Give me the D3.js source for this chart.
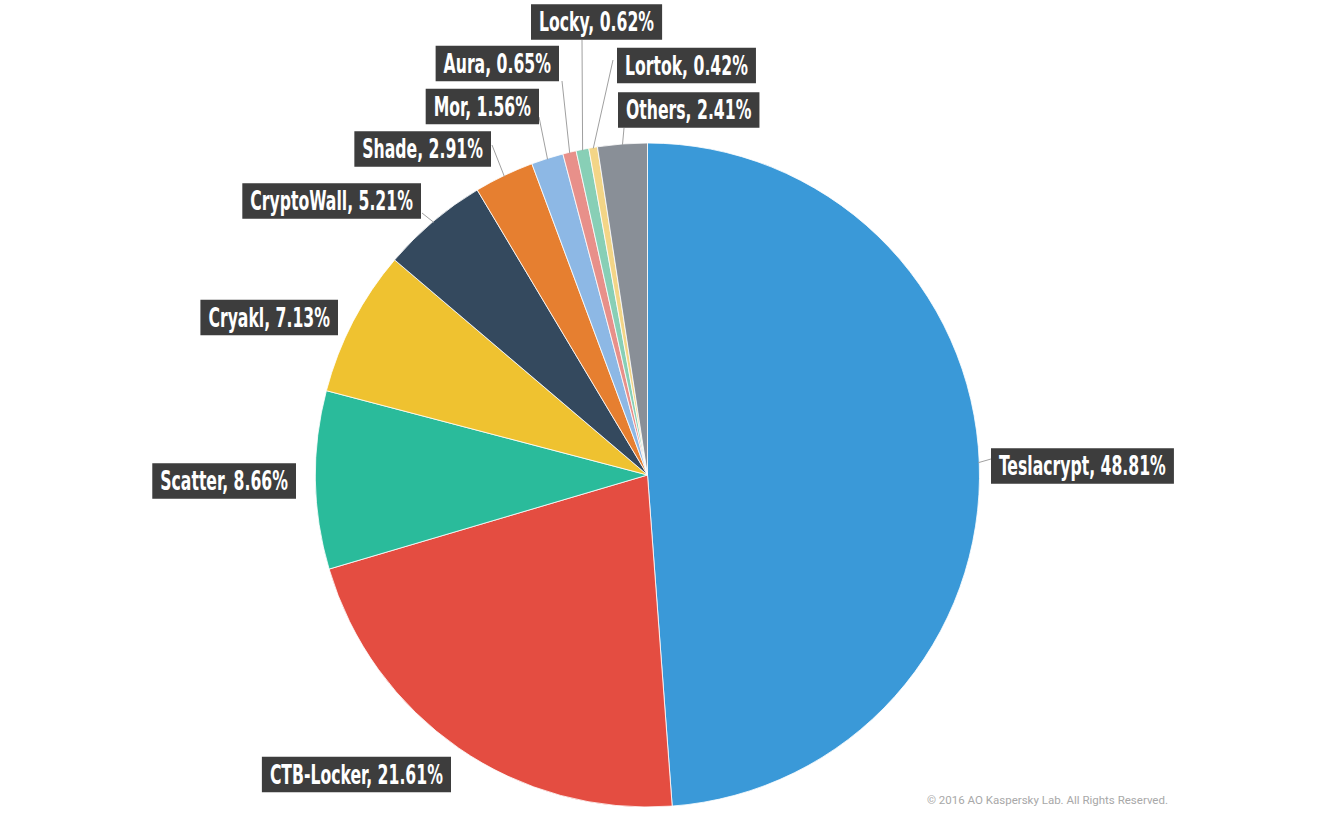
<!DOCTYPE html>
<html>
<head>
<meta charset="utf-8">
<script src="https://cdn.jsdelivr.net/npm/d3@7"></script>
<style>
  html, body { margin: 0; padding: 0; background: #fff; }
  svg { display: block; }
</style>
</head>
<body>
<svg id="chart" width="1328" height="815"></svg>
<script>
// ---- data ----
const categories = ["Teslacrypt", "CTB-Locker", "Scatter", "Cryakl", "CryptoWall", "Shade", "Mor", "Aura", "Locky", "Lortok", "Others"];
const shares = [48.81, 21.61, 8.66, 7.13, 5.21, 2.91, 1.56, 0.65, 0.62, 0.42, 2.41];
const valueLabels = ["48.81%", "21.61%", "8.66%", "7.13%", "5.21%", "2.91%", "1.56%", "0.65%", "0.62%", "0.42%", "2.41%"];
const copyrightText = "© 2016 AO Kaspersky Lab. All Rights Reserved.";

// ---- styling / layout ----
const colors = ["#3a99d8", "#e44d41", "#2abb9b", "#efc230", "#34495e", "#e67f30", "#8db8e5", "#e8908a", "#88cfb6", "#f3d587", "#898f97"];
// box anchor: side ("l" = left edge given, "r" = right edge given), x, vertical centre
const boxAnchors = [
  ["l", 991, 466], ["r", 451, 774.5], ["r", 296, 481], ["r", 338, 317.5], ["r", 421, 201],
  ["r", 491, 149], ["r", 539, 106.5], ["r", 559, 63.5], ["l", 531, 22], ["l", 617, 65.5], ["l", 618, 110]
];
// leader line end points (null = no line)
const leaderEnds = [
  [991, 459], null, null, null, [422, 213],
  [492, 145], [539, 117], [562, 81], [582, 40], [613, 60], [624, 128]
];

const cx = 647.5, cy = 475, R = 332;
const svg = d3.select("#chart");
const g = svg.append("g").attr("transform", `translate(${cx},${cy})`);

const data = categories.map((c, i) => ({ name: c, value: shares[i], label: valueLabels[i], i }));
const pie = d3.pie().value(d => d.value).sort(null);
const arcs = pie(data);
const arc = d3.arc().innerRadius(0).outerRadius(R);

g.selectAll("path.slice").data(arcs).enter().append("path")
  .attr("class", "slice")
  .attr("d", arc)
  .attr("fill", d => colors[d.data.i])
  .attr("stroke", "#fff")
  .attr("stroke-width", 0.8);

// leader lines
arcs.forEach(a => {
  const end = leaderEnds[a.data.i];
  if (!end) return;
  const mid = (a.startAngle + a.endAngle) / 2;
  const sx = cx + (R - 1) * Math.sin(mid), sy = cy - (R - 1) * Math.cos(mid);
  svg.append("line")
    .attr("x1", sx).attr("y1", sy).attr("x2", end[0]).attr("y2", end[1])
    .attr("stroke", "#a0a0a0").attr("stroke-width", 1);
});

// labels
const fontSize = 26, padX = 8, boxH = 35.5, squeeze = 0.67;
const labG = svg.append("g");
arcs.forEach(a => {
  const d = a.data;
  const [side, ax, ay] = boxAnchors[d.i];
  const grp = labG.append("g");
  const rect = grp.append("rect").attr("fill", "#3d3d3d");
  const t = grp.append("text")
    .attr("font-family", "'Liberation Sans Narrow', 'DejaVu Sans Condensed', 'Roboto', sans-serif")
    .attr("font-weight", "bold")
    .attr("font-size", fontSize)
    .attr("fill", "#fff")
    .text(`${d.name}, ${d.label}`);
  const w = t.node().getComputedTextLength() * squeeze;
  const bw = w + padX * 2;
  const x0 = side === "l" ? ax : ax - bw;
  rect.attr("x", x0).attr("y", ay - boxH / 2).attr("width", bw).attr("height", boxH);
  t.attr("transform", `translate(${x0 + padX},${ay + fontSize * 0.35}) scale(${squeeze},1)`);
});

svg.append("text")
  .attr("x", 1168).attr("y", 804)
  .attr("text-anchor", "end")
  .attr("font-family", "'Liberation Sans Narrow', 'Roboto', sans-serif")
  .attr("font-size", 11.5)
  .attr("fill", "#a8a8a8")
  .text(copyrightText);
</script>
</body>
</html>
